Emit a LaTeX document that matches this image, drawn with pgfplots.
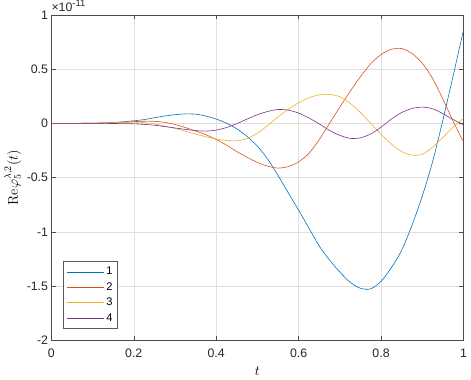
\documentclass[border=0pt]{standalone}
\usepackage[no-math]{fontspec}
\setmainfont{Liberation Sans}
\usepackage{pgfplots}
\usepackage{pgfplotstable}
\pgfplotsset{compat=1.18}
\definecolor{mblue}{rgb}{0,0.447,0.741}
\definecolor{morange}{rgb}{0.85,0.325,0.098}
\definecolor{myellow}{rgb}{0.929,0.694,0.125}
\definecolor{mpurple}{rgb}{0.494,0.184,0.556}
% Re phi in units of 1e-11
\pgfplotstableread{
t     a       b       c       d
0     0       0       0       0
0.025 0       0       0       0
0.05  0       0       0       0
0.075 0.001   0.001   0.001   0
0.1   0.002   0.002   0.002   0
0.125 0.004   0.004   0.004   0
0.15  0.008   0.007   0.007   -0.001
0.175 0.015   0.011   0.010   -0.002
0.2   0.024   0.016   0.011   -0.004
0.225 0.035   0.020   0.007   -0.009
0.25  0.052   0.019   -0.005  -0.017
0.275 0.068   0.010   -0.025  -0.029
0.3   0.080   -0.010  -0.046  -0.042
0.325 0.087   -0.038  -0.072  -0.055
0.35  0.085   -0.070  -0.098  -0.066
0.375 0.068   -0.105  -0.123  -0.071
0.4   0.040   -0.148  -0.145  -0.062
0.425 0.002   -0.200  -0.158  -0.038
0.45  -0.050  -0.260  -0.160  -0.003
0.475 -0.120  -0.312  -0.140  0.040
0.5   -0.210  -0.360  -0.090  0.080
0.525 -0.330  -0.395  -0.020  0.110
0.55  -0.480  -0.412  0.060   0.128
0.575 -0.640  -0.398  0.130   0.122
0.6   -0.800  -0.355  0.190   0.095
0.625 -0.965  -0.275  0.236   0.050
0.65  -1.130  -0.150  0.263   -0.005
0.675 -1.260  0.000   0.268   -0.065
0.7   -1.370  0.150   0.245   -0.110
0.725 -1.465  0.295   0.185   -0.138
0.75  -1.520  0.430   0.100   -0.133
0.775 -1.525  0.550   0.000   -0.097
0.8   -1.456  0.635   -0.100  -0.035
0.825 -1.330  0.683   -0.190  0.040
0.85  -1.170  0.690   -0.260  0.100
0.875 -0.940  0.645   -0.292  0.137
0.9   -0.670  0.555   -0.285  0.150
0.925 -0.355  0.415   -0.220  0.135
0.95  0.030   0.225   -0.130  0.090
0.975 0.440   0.020   -0.035  0.035
1     0.860   -0.170  0.048   -0.012
}\datatable
\begin{document}
\fontsize{12.5}{15}\selectfont
\begin{tikzpicture}
\begin{axis}[
  name=ax,
  width=418pt, height=330pt, scale only axis,
  xmin=0, xmax=1, ymin=-2, ymax=1,
  xtick={0,0.2,0.4,0.6,0.8,1},
  ytick={-2,-1.5,-1,-0.5,0,0.5,1},
  /pgf/number format/assume math mode=true,
  tick align=inside, major tick length=4.5pt,
  axis line style={black!70},
  tick style={black!70, line width=0.4pt},
  ticklabel style={black!85, font=\fontsize{12.5}{15}\selectfont},
  xticklabel style={yshift=-4pt},
  yticklabel style={xshift=1pt},
  grid=major,
  grid style={line width=0.4pt, draw=black!12},
  xlabel={$t$},
  ylabel={$\mathrm{Re}\varphi_5^{\lambda,2}(t)$},
  xlabel style={font=\fontsize{14}{16}\selectfont, yshift=-1pt},
  ylabel style={font=\fontsize{14}{16}\selectfont, yshift=-3pt},
  legend cell align=left,
  legend style={at={(axis description cs:0.029,0.036)}, anchor=south west,
    draw=black!65, font=\fontsize{11.25}{13}\selectfont,
    row sep=2pt, inner xsep=3pt, inner ysep=3.5pt},
  legend image code/.code={\draw[#1] (0pt,0pt) -- (38pt,0pt);},
  every axis plot/.append style={line width=0.6pt, smooth},
]
\addplot[mblue] table[x=t, y=a] {\datatable};
\addlegendentry{1}
\addplot[morange] table[x=t, y=b] {\datatable};
\addlegendentry{2}
\addplot[myellow] table[x=t, y=c] {\datatable};
\addlegendentry{3}
\addplot[mpurple] table[x=t, y=d] {\datatable};
\addlegendentry{4}
\end{axis}
\node[anchor=base west, inner sep=0pt, black!85,
  font=\fontsize{12.5}{15}\selectfont] at ([yshift=3pt]ax.north west)
  {×10\raisebox{0.85ex}{\fontsize{9.5}{11}\selectfont -11}};
\end{tikzpicture}
\end{document}
